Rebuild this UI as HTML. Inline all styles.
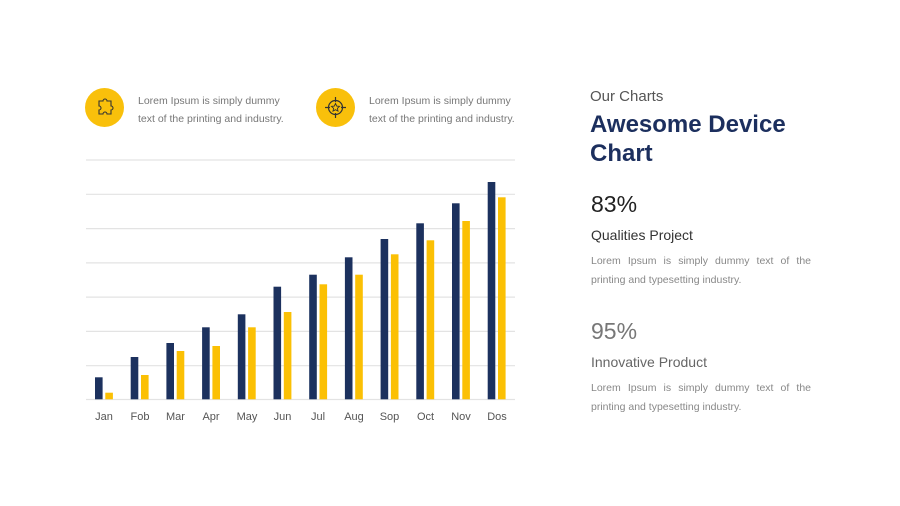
<!DOCTYPE html>
<html><head><meta charset="utf-8"><style>
body{margin:0;width:900px;height:506px;background:#fff;position:relative;overflow:hidden;font-family:"Liberation Sans",sans-serif}
.a{position:absolute;white-space:nowrap}
.circ{position:absolute;width:39px;height:39px;border-radius:50%;background:#f9c00b}
.sm{font-size:10.5px;color:#777;line-height:18px}
.j{font-size:10.5px;color:#888;line-height:18.5px;width:220px;text-align:justify;text-align-last:left;white-space:normal}
</style></head><body>
<div class="circ" style="left:85px;top:88px"></div>
<svg class="a" style="left:85px;top:88px" width="39" height="39"><path d="M14 13 h4 a2 2 0 0 1 4 0 h4 v5 a2 2 0 0 1 0 4 v4 h-4 a2 2 0 0 0 -4 0 h-4 v-4 a2 2 0 0 0 0 -4z" fill="none" stroke="#333" stroke-width="1.1"/></svg>
<div class="a sm" style="left:138px;top:92px">Lorem Ipsum is simply dummy<br>text of the printing and industry.</div>
<div class="circ" style="left:316px;top:88px"></div>
<svg class="a" style="left:316px;top:88px" width="39" height="39"><circle cx="19.5" cy="19.5" r="7" fill="none" stroke="#333" stroke-width="1.2"/><path d="M19.5 9v5M19.5 25v5M9 19.5h5M25 19.5h5" stroke="#333" stroke-width="1.2"/><path d="M19.5 15.5l1.2 2.6 2.8.3-2.1 1.9.6 2.8-2.5-1.4-2.5 1.4.6-2.8-2.1-1.9 2.8-.3z" fill="none" stroke="#333" stroke-width="0.9"/></svg>
<div class="a sm" style="left:369px;top:92px">Lorem Ipsum is simply dummy<br>text of the printing and industry.</div>
<svg class="a" style="left:0;top:0" width="560" height="440">
<g stroke="#e3e3e3" stroke-width="1.2">
<line x1="86" x2="515" y1="160" y2="160"/><line x1="86" x2="515" y1="194.3" y2="194.3"/><line x1="86" x2="515" y1="228.6" y2="228.6"/><line x1="86" x2="515" y1="262.9" y2="262.9"/><line x1="86" x2="515" y1="297.1" y2="297.1"/><line x1="86" x2="515" y1="331.4" y2="331.4"/><line x1="86" x2="515" y1="365.7" y2="365.7"/><line x1="86" x2="515" y1="399.5" y2="399.5"/>
</g>
<g fill="#1c315e">
<rect x="95" y="377.3" width="7.6" height="22"/><rect x="130.7" y="357" width="7.6" height="42.3"/><rect x="166.4" y="343" width="7.6" height="56.3"/><rect x="202.1" y="327.3" width="7.6" height="72"/><rect x="237.8" y="314.3" width="7.6" height="85"/><rect x="273.5" y="286.7" width="7.6" height="112.6"/><rect x="309.2" y="274.7" width="7.6" height="124.6"/><rect x="344.9" y="257.3" width="7.6" height="142"/><rect x="380.6" y="239" width="7.6" height="160.3"/><rect x="416.3" y="223.3" width="7.6" height="176"/><rect x="452" y="203.3" width="7.6" height="196"/><rect x="487.7" y="182" width="7.6" height="217.3"/>
</g>
<g fill="#fbc004">
<rect x="105.3" y="392.7" width="7.6" height="6.6"/><rect x="141" y="375" width="7.6" height="24.3"/><rect x="176.7" y="351" width="7.6" height="48.3"/><rect x="212.4" y="346" width="7.6" height="53.3"/><rect x="248.1" y="327.3" width="7.6" height="72"/><rect x="283.8" y="312" width="7.6" height="87.3"/><rect x="319.5" y="284.3" width="7.6" height="115"/><rect x="355.2" y="274.7" width="7.6" height="124.6"/><rect x="390.9" y="254.3" width="7.6" height="145"/><rect x="426.6" y="240.3" width="7.6" height="159"/><rect x="462.3" y="221" width="7.6" height="178.3"/><rect x="498" y="197.3" width="7.6" height="202"/>
</g>
<g font-family="Liberation Sans, sans-serif" font-size="11" fill="#555" text-anchor="middle">
<text x="104" y="420">Jan</text><text x="140" y="420">Fob</text><text x="175.5" y="420">Mar</text><text x="211" y="420">Apr</text><text x="247" y="420">May</text><text x="282.5" y="420">Jun</text><text x="318" y="420">Jul</text><text x="354" y="420">Aug</text><text x="389.5" y="420">Sop</text><text x="425.5" y="420">Oct</text><text x="461" y="420">Nov</text><text x="497" y="420">Dos</text>
</g>
</svg>
<div class="a" style="left:590px;top:88px;font-size:15px;color:#555">Our Charts</div>
<div class="a" style="left:590px;top:110px;font-size:24px;font-weight:bold;color:#1c2f5e;line-height:29px">Awesome Device<br>Chart</div>
<div class="a" style="left:591px;top:191px;font-size:23px;color:#222">83%</div>
<div class="a" style="left:591px;top:227px;font-size:14px;color:#333">Qualities Project</div>
<div class="a j" style="left:591px;top:252px">Lorem Ipsum is simply dummy text of the printing and typesetting industry.</div>
<div class="a" style="left:591px;top:318px;font-size:23px;color:#777">95%</div>
<div class="a" style="left:591px;top:354px;font-size:14px;color:#666">Innovative Product</div>
<div class="a j" style="left:591px;top:379px">Lorem Ipsum is simply dummy text of the printing and typesetting industry.</div>
</body></html>
